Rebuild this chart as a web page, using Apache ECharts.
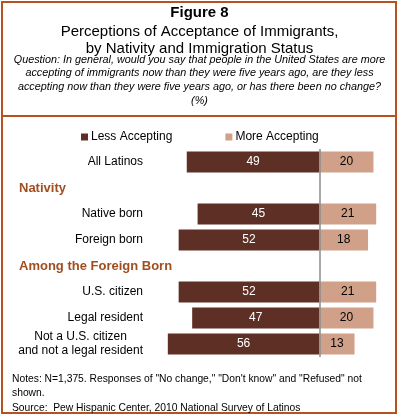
<!DOCTYPE html>
<html>
<head>
<meta charset="utf-8">
<script src="https://cdn.jsdelivr.net/npm/echarts@6/dist/echarts.min.js"></script>
<style>
  html, body { margin: 0; padding: 0; background: #fff; }
  #chart { width: 399px; height: 417px; }
</style>
</head>
<body>
<div id="chart"></div>
<script>
// rows top to bottom, headers have no bars
const categories = [
  "All Latinos",
  "Nativity",
  "Native born",
  "Foreign born",
  "Among the Foreign Born",
  "U.S. citizen",
  "Legal resident",
  "Not a U.S. citizen\nand not a legal resident",
];
const headers = ["Nativity", "Among the Foreign Born"];
const lessAccepting = [49, null, 45, 52, null, 52, 47, 56];
const moreAccepting = [20, null, 21, 18, null, 21, 20, 13];

const frameColor = "#B5521E";
const font = "Liberation Sans, Arial, sans-serif";

const chart = echarts.init(document.getElementById("chart"));
const option = {
  animation: false,
  title: [
    {
      text: "Figure 8",
      left: "center",
      top: 5,
      padding: 0,
      textStyle: { fontFamily: font, fontSize: 15, fontWeight: "bold", color: "#000" },
    },
    {
      text: "Perceptions of Acceptance of Immigrants,\nby Nativity and Immigration Status",
      left: "center",
      top: 23,
      padding: 0,
      textStyle: { fontFamily: font, fontSize: 15, fontWeight: "normal", color: "#000", lineHeight: 17 },
    },
    {
      text:
        "Question: In general, would you say that people in the United States are more\n" +
        "accepting of immigrants now than they were five years ago, are they less\n" +
        "accepting now than they were five years ago, or has there been no change?\n(%)",
      left: "center",
      top: 53,
      padding: 0,
      textStyle: { fontFamily: font, fontSize: 10.8, fontStyle: "italic", fontWeight: "normal", color: "#000", lineHeight: 13.6 },
    },
    {
      text:
        'Notes: N=1,375. Responses of "No change," "Don\'t know" and "Refused" not\nshown.',
      left: 12,
      top: 372,
      padding: 0,
      textStyle: { fontFamily: font, fontSize: 10.3, fontWeight: "normal", color: "#000", lineHeight: 14 },
    },
    {
      text: "Source:  Pew Hispanic Center, 2010 National Survey of Latinos",
      left: 12,
      top: 401,
      padding: 0,
      textStyle: { fontFamily: font, fontSize: 10.3, fontWeight: "normal", color: "#000", lineHeight: 14 },
    },
  ],
  legend: {
    top: 126,
    left: 76,
    itemWidth: 7,
    itemHeight: 7,
    itemGap: 53,
    icon: "rect",
    textStyle: { fontFamily: font, fontSize: 12, color: "#000", padding: [0, 0, 0, -2] },
    data: ["Less Accepting", "More Accepting"],
  },
  grid: { left: 157, right: 12, top: 149, bottom: 60, containLabel: false },
  xAxis: {
    type: "value",
    min: -60,
    max: 25,
    show: false,
  },
  yAxis: {
    type: "category",
    inverse: true,
    data: categories,
    axisLine: { show: false },
    axisTick: { show: false },
    axisLabel: {
      margin: 14,
      fontFamily: font,
      fontSize: 12,
      color: "#000",
      lineHeight: 14,
      formatter: function (v) {
        if (headers.indexOf(v) >= 0) return "{h|" + v + "}";
        if (v.indexOf("\n") >= 0)
          return v.split("\n").map((s) => "{c|" + s + "}").join("\n");
        return v;
      },
      rich: {
        h: { width: 124, align: "left", fontFamily: font, fontSize: 13, fontWeight: "bold", color: "#A24D1E" },
        c: { align: "center", fontFamily: font, fontSize: 12, color: "#000", lineHeight: 14 },
      },
    },
  },
  series: [
    {
      name: "Less Accepting",
      type: "bar",
      stack: "total",
      barWidth: 21,
      itemStyle: { color: "#5E2F24" },
      label: {
        show: true,
        position: "inside",
        color: "#fff",
        fontFamily: font,
        fontSize: 12,
        formatter: (p) => Math.abs(p.value),
      },
      data: lessAccepting.map((v) => (v == null ? null : -v)),
      markLine: {
        silent: true,
        symbol: "none",
        label: { show: false },
        lineStyle: { color: "#8C8C8C", width: 1.5, type: "solid" },
        data: [{ xAxis: 0 }],
      },
    },
    {
      name: "More Accepting",
      type: "bar",
      stack: "total",
      barWidth: 21,
      itemStyle: { color: "#D0A188" },
      label: {
        show: true,
        position: "inside",
        color: "#000",
        fontFamily: font,
        fontSize: 12,
      },
      data: moreAccepting,
    },
  ],
  graphic: [
    {
      type: "rect",
      shape: { x: 2, y: 2, width: 394, height: 411 },
      style: { fill: "none", stroke: frameColor, lineWidth: 2 },
      silent: true,
    },
    {
      type: "line",
      shape: { x1: 2, y1: 116, x2: 396, y2: 116 },
      style: { stroke: frameColor, lineWidth: 2 },
      silent: true,
    },
  ],
};
chart.setOption(option);
</script>
</body>
</html>
